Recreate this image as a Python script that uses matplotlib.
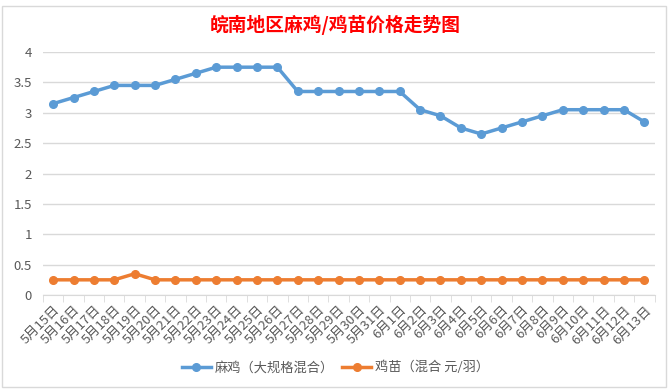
import numpy as np
import matplotlib.pyplot as plt
from matplotlib.patches import Rectangle

plt.rcParams['font.family'] = ['Noto Sans CJK SC', 'DejaVu Sans']

dates = ['5月15日', '5月16日', '5月17日', '5月18日', '5月19日', '5月20日', '5月21日',
         '5月22日', '5月23日', '5月24日', '5月25日', '5月26日', '5月27日', '5月28日',
         '5月29日', '5月30日', '5月31日', '6月1日', '6月2日', '6月3日', '6月4日',
         '6月5日', '6月6日', '6月7日', '6月8日', '6月9日', '6月10日', '6月11日',
         '6月12日', '6月13日']
maji = [3.15, 3.25, 3.35, 3.45, 3.45, 3.45, 3.55, 3.65, 3.75, 3.75, 3.75, 3.75,
        3.35, 3.35, 3.35, 3.35, 3.35, 3.35, 3.05, 2.95, 2.75, 2.65, 2.75, 2.85,
        2.95, 3.05, 3.05, 3.05, 3.05, 2.85]
jimiao = [0.25, 0.25, 0.25, 0.25, 0.35, 0.25, 0.25, 0.25, 0.25, 0.25, 0.25, 0.25,
          0.25, 0.25, 0.25, 0.25, 0.25, 0.25, 0.25, 0.25, 0.25, 0.25, 0.25, 0.25,
          0.25, 0.25, 0.25, 0.25, 0.25, 0.25]

fig = plt.figure(figsize=(6.71, 3.91), dpi=100)
# chart frame
fig.patches.append(Rectangle((0.003, 0.01), 0.99, 0.975, transform=fig.transFigure,
                             fill=False, edgecolor='#d9d9d9', lw=1))
ax = fig.add_axes([0.064, 0.2455, 0.9115, 0.6215])

x = np.arange(len(dates))
ax.plot(x, maji, color='#5b9bd5', lw=2.5, marker='o', ms=5.5, label='麻鸡（大规格混合）')
ax.plot(x, jimiao, color='#ed7d31', lw=2.5, marker='o', ms=5.5, label='鸡苗（混合 元/羽）')

ax.set_xlim(-0.5, len(dates) - 0.5)
ax.set_ylim(0, 4)
ax.set_yticks(np.arange(0, 4.01, 0.5))
ax.set_yticklabels(['0', '0.5', '1', '1.5', '2', '2.5', '3', '3.5', '4'])
ax.grid(axis='y', color='#d9d9d9', lw=1)
ax.set_axisbelow(True)
for s in ['top', 'right', 'left']:
    ax.spines[s].set_visible(False)
ax.spines['bottom'].set_color('#d9d9d9')

ax.set_xticks(x)
ax.set_xticklabels(dates, rotation=45, ha='right', rotation_mode='anchor',
                   fontsize=9.5, color='#595959')
ax.set_xticks(np.arange(-0.5, len(dates), 1), minor=True)
ax.tick_params(axis='x', which='major', length=0, pad=6)
ax.tick_params(axis='x', which='minor', length=5, color='#d9d9d9')
ax.tick_params(axis='y', length=0, labelsize=9.5, labelcolor='#595959', pad=8)

fig.text(0.5, 0.935, '皖南地区麻鸡/鸡苗价格走势图', ha='center', va='center',
         color='red', fontsize=13.5, fontweight='bold')
fig.legend(loc='center', bbox_to_anchor=(0.5, 0.06), ncol=2, frameon=False,
           fontsize=9.5, labelcolor='#595959', handlelength=2.2, handletextpad=0.3,
           columnspacing=0.6)

fig.savefig('out.png', dpi=100)
